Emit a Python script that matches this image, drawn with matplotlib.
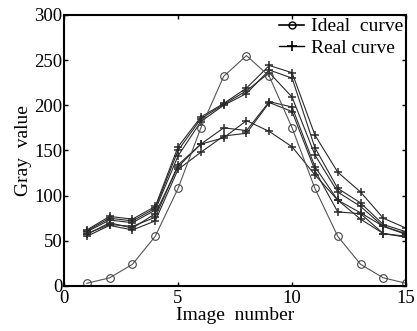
import matplotlib
matplotlib.use("Agg")
import matplotlib.pyplot as plt
from matplotlib.lines import Line2D

plt.rcParams['font.family'] = ['Liberation Serif', 'DejaVu Serif']

image_numbers = list(range(1, 16))
ideal_curve = [3, 9, 24, 55, 108, 175, 232, 255, 232, 175, 108, 55, 24, 9, 3]
real_curve_1 = [62, 77, 74, 88, 154, 187, 202, 219, 244, 236, 167, 126, 104, 75, 64]
real_curve_2 = [60, 73, 70, 84, 144, 182, 200, 213, 239, 230, 153, 108, 92, 68, 60]
real_curve_3 = [61, 75, 72, 86, 150, 185, 201, 216, 236, 209, 145, 104, 88, 66, 58]
real_curve_4 = [57, 70, 64, 80, 132, 157, 175, 172, 204, 198, 132, 95, 81, 66, 57]
real_curve_5 = [55, 67, 62, 72, 129, 148, 166, 169, 203, 193, 128, 82, 80, 58, 55]
real_curve_6 = [58, 68, 66, 76, 134, 157, 164, 183, 171, 154, 123, 95, 74, 58, 54]
real_curves = [real_curve_1, real_curve_2, real_curve_3, real_curve_4, real_curve_5, real_curve_6]

fig = plt.figure(figsize=(4.17, 3.31), dpi=100)
ax = fig.add_axes([0.1535, 0.136, 0.8205, 0.819])

for rc in real_curves:
    ax.plot(image_numbers, rc, color='#2a2a2a', lw=0.8, marker='+', ms=6, mew=1.1)
ax.plot(image_numbers, ideal_curve, color='#555555', lw=0.8, marker='o', ms=5.5,
        mfc='none', mec='#444444', mew=0.8)

ax.set_xlim(0, 15)
ax.set_ylim(0, 300)
ax.set_xticks([0, 5, 10, 15])
ax.set_yticks([0, 50, 100, 150, 200, 250, 300])
ax.tick_params(direction='in', length=3, width=1, labelsize=13.5, top=True, right=True)
ax.tick_params(axis='x', pad=3)
ax.tick_params(axis='y', pad=1)
for s in ax.spines.values():
    s.set_linewidth(1.5)
ax.set_xlabel('Image  number', fontsize=14, labelpad=0)
ax.set_ylabel('Gray  value', fontsize=14, labelpad=2)

handles = [Line2D([], [], color='black', lw=1.2, marker='o', ms=5, mfc='none', mec='black'),
           Line2D([], [], color='black', lw=1.0, marker='+', ms=7, mew=1.2)]
ax.legend(handles, ['Ideal  curve', 'Real curve'], loc='upper right', frameon=False,
          fontsize=14, handlelength=1.3, handletextpad=0.35, borderaxespad=0.05,
          labelspacing=0.2, borderpad=0.1)

fig.savefig('out.png', dpi=100)
